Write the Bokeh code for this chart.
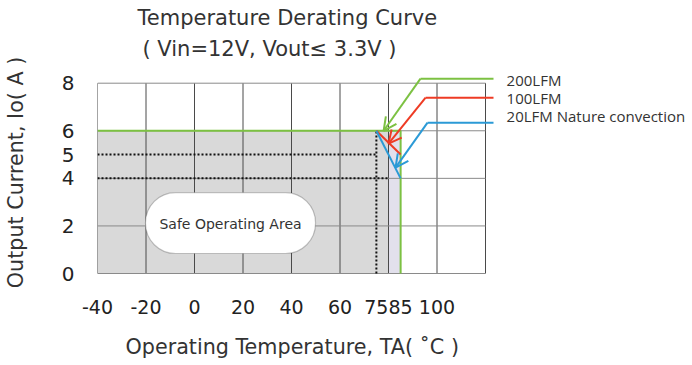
from bokeh.plotting import figure
from bokeh.models import Range1d, FixedTicker, Label, Arrow, OpenHead, BoxAnnotation, Title
from bokeh.embed import file_html
from bokeh.resources import INLINE

# ---------------- data ----------------
x_ticks = [-40, -20, 0, 20, 40, 60, 75, 85, 100]
y_ticks = [0, 2, 4, 5, 6, 8]
grid_x = [-40, -20, 0, 20, 40, 60, 80, 100, 120]
grid_y = [0, 2, 4, 6, 8]

curve_200_x = [-40, 85, 85]
curve_200_y = [6, 6, 0]
curve_100_x = [75, 85]
curve_100_y = [6, 5]
curve_20_x = [75, 85]
curve_20_y = [6, 4]

dot_h5_x, dot_h5_y = [-40, 75], [5, 5]
dot_h4_x, dot_h4_y = [-40, 80], [4, 4]
dot_v75_x, dot_v75_y = [75, 75], [0, 6]

series_names = ["200LFM", "100LFM", "20LFM Nature convection"]
series_colors = ["#7cc142", "#ee3b24", "#2b9ad6"]
leader_x_start = [123.3, 123.3, 123.3]
leader_x_bend = [93.2, 95.3, 96.1]
leader_y = [8.19, 7.39, 6.34]
arrow_tip_x = [78.0, 80.0, 82.9]
arrow_tip_y = [6.0, 5.46, 4.45]
legend_text_x = 128.7
legend_text_y = [8.15, 7.39, 6.64]

title_1 = "Temperature Derating Curve"
title_2 = "( Vin=12V, Vout≤ 3.3V )"
x_label = "Operating Temperature, TA( ˚C )"
y_label = "Output Current, Io( A )"

FONT = "DejaVu Sans"
TXT = "#333333"

p = figure(title=None, frame_width=595, frame_height=208,
           min_border_left=97, min_border_right=0, min_border_top=68, min_border_bottom=89,
           x_range=Range1d(-40, 205.36), y_range=Range1d(-0.126, 8.618),
           output_backend="svg", toolbar_location=None, tools="")
p.xgrid.visible = False
p.ygrid.visible = False
p.outline_line_color = None
p.background_fill_color = "white"
p.border_fill_color = "white"

for ax, ticks, size, standoff in ((p.xaxis, x_ticks, "19px", 17), (p.yaxis, y_ticks, "20px", 17)):
    ax.ticker = FixedTicker(ticks=ticks)
    ax.major_label_overrides = {t: str(t) for t in ticks}
    ax.axis_line_color = None
    ax.major_tick_line_color = None
    ax.minor_tick_line_color = None
    ax.major_label_text_font = FONT
    ax.major_label_text_font_size = size
    ax.major_label_text_color = "#222222"
    ax.major_label_standoff = standoff

p.yaxis.axis_label = y_label
p.yaxis.axis_label_standoff = 31
p.yaxis.axis_label_text_font = FONT
p.yaxis.axis_label_text_font_size = "20.7px"
p.yaxis.axis_label_text_font_style = "normal"
p.yaxis.axis_label_text_color = TXT

# titles (closest to frame first)
p.add_layout(Title(text=title_2, align="left", vertical_align="top", offset=45, standoff=11,
                   text_font=FONT, text_font_size="21px", text_font_style="normal",
                   text_color=TXT), "above")
p.add_layout(Title(text=title_1, align="left", vertical_align="top", offset=40, standoff=0,
                   text_font=FONT, text_font_size="21px", text_font_style="normal",
                   text_color=TXT), "above")
p.add_layout(Title(text=x_label, align="left", offset=28, standoff=32, text_font=FONT,
                   text_font_size="20.7px", text_font_style="normal", text_color=TXT), "below")

# shaded safe area
p.quad(left=[-40], right=[80], bottom=[0], top=[6], fill_color="#d9d9d9", line_color=None)
p.quad(left=[80], right=[85], bottom=[0], top=[6], fill_color="#e2e0ec", line_color=None)

# grid
p.segment(x0=grid_x, y0=[grid_y[0]] * len(grid_x), x1=grid_x, y1=[grid_y[-1]] * len(grid_x),
          line_color="#4a4a4a", line_width=1)
p.segment(x0=[grid_x[0]] * len(grid_y), y0=grid_y, x1=[grid_x[-1]] * len(grid_y), y1=grid_y,
          line_color="#8a8a8a", line_width=1)

# dotted reference lines
for xs, ys in ((dot_h5_x, dot_h5_y), (dot_h4_x, dot_h4_y), (dot_v75_x, dot_v75_y)):
    p.line(xs, ys, line_color="#111111", line_width=2, line_dash="2 2")

# derating curves
p.line(curve_200_x, curve_200_y, line_color=series_colors[0], line_width=2)
p.line(curve_100_x, curve_100_y, line_color=series_colors[1], line_width=2)
p.line(curve_20_x, curve_20_y, line_color=series_colors[2], line_width=2)

# leaders + arrows + legend texts
for i in range(3):
    c = series_colors[i]
    p.line([leader_x_start[i], leader_x_bend[i]], [leader_y[i], leader_y[i]], line_color=c, line_width=2)
    p.add_layout(Arrow(end=OpenHead(size=13, line_color=c, line_width=2),
                       x_start=leader_x_bend[i], y_start=leader_y[i],
                       x_end=arrow_tip_x[i], y_end=arrow_tip_y[i],
                       line_color=c, line_width=2))
    p.add_layout(Label(x=legend_text_x, y=legend_text_y[i], text=series_names[i],
                       text_font="Open Sans", text_font_size="15px", text_color=TXT,
                       text_align="left", text_baseline="middle"))

# safe operating area box
p.add_layout(BoxAnnotation(left=-20.2, right=49.9, bottom=0.84, top=3.40, border_radius=30,
                           fill_color="white", fill_alpha=1.0, line_color="#444444", line_width=1.2))
p.add_layout(Label(x=14.85, y=2.10, text="Safe Operating Area", text_font=FONT,
                   text_font_size="14px", text_color=TXT,
                   text_align="center", text_baseline="middle"))

open("out.html", "w").write(file_html(p, INLINE))
